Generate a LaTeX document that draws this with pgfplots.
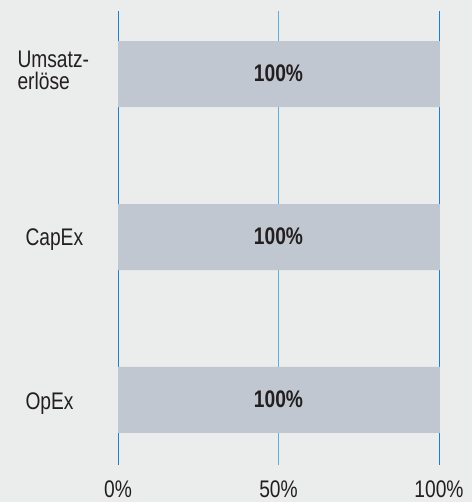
\documentclass[border=0pt]{standalone}
\usepackage{fontspec}
\setmainfont{Liberation Sans}[FakeStretch=0.8]
\usepackage{pgfplots}
\pgfplotsset{compat=1.18}
\definecolor{bg}{HTML}{EBECEC}
\definecolor{barc}{HTML}{C0C7D0}
\definecolor{txt}{HTML}{231F20}
\definecolor{gridA}{HTML}{1A7FCF}
\definecolor{gridB}{HTML}{5AAEE0}
\begin{document}
\begin{tikzpicture}[x=1pt,y=1pt]
\fill[bg] (0,0) rectangle (472,502);
\begin{axis}[
  at={(118pt,37pt)}, anchor=south west,
  scale only axis, width=321pt, height=454pt,
  xmin=0, xmax=100, ymin=-0.399, ymax=2.387,
  axis line style={draw=none},
  major tick length=0pt,
  xtick={0,100}, xticklabels={0\%,100\%},
  extra x ticks={50}, extra x tick labels={50\%},
  extra x tick style={grid style={gridB, line width=1pt}},
  xmajorgrids, grid style={gridA, line width=1pt},
  ytick=\empty,
  /pgf/number format/assume math mode=true,
  font=\fontsize{24}{22}\selectfont,
  every tick label/.append style={text=txt},
  xticklabel style={yshift=-12pt},
  clip=false,
]
\addplot[xbar, bar width=66pt, fill=barc, draw=none] coordinates {(100.3,0) (100.3,1) (100.3,2)};
\addplot[draw=none, mark=none, nodes near coords={\textbf{100\%}},
  every node near coord/.append style={anchor=center, text=txt, yshift=1pt, font=\fontsize{24}{22}\selectfont}]
  coordinates {(50,0) (50,1) (50,2)};
\node[anchor=west, align=left, text=txt, font=\fontsize{24}{22}\selectfont] at ([xshift=-104pt,yshift=4pt]axis cs:0,2) {Umsatz-\\erlöse};
\node[anchor=west, text=txt, font=\fontsize{24}{22}\selectfont] at ([xshift=-96pt,yshift=-3pt]axis cs:0,1) {CapEx};
\node[anchor=west, text=txt, font=\fontsize{24}{22}\selectfont] at ([xshift=-96pt,yshift=-4pt]axis cs:0,0) {OpEx};
\end{axis}
\end{tikzpicture}
\end{document}
